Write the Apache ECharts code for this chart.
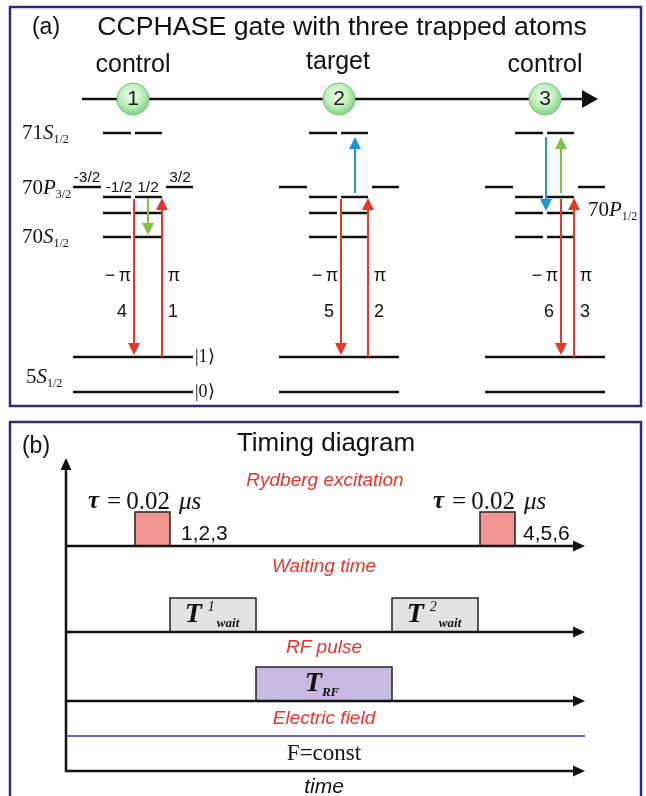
<!DOCTYPE html>
<html><head><meta charset="utf-8">
<script src="https://cdn.jsdelivr.net/npm/echarts@6/dist/echarts.min.js"></script>
<style>html,body{margin:0;padding:0;background:#fff}#c{width:646px;height:796px}</style>
</head><body><div id="c"></div>
<script>
// ---------- Panel (a): three trapped atoms ----------
const atomRoles = ['control', 'target', 'control'];
const atomLabels = ['1', '2', '3'];
const atomX = [133, 339, 545];            // atom positions along the chain
const chainY = 99;

// energy levels (vertical position of each level in the diagram)
const levelNames = ['71S1/2', '70P3/2 |mj|=3/2', '70P3/2 |mj|=1/2', '70P1/2', '70S1/2', '5S1/2 |1>', '5S1/2 |0>'];
const levelY = [133, 187, 197, 213, 237, 357, 392];
const levelKind = ['pair', 'outer', 'pair', 'pair', 'pair', 'full', 'full'];
const mjLabels = ['-3/2', '-1/2', '1/2', '3/2'];

// transitions (arrows): atom, slot offset, from level, to level, colour kind
const transAtom = [0, 0, 0, 1, 1, 1, 2, 2, 2, 2];
const transDx   = [1, 29, 15, 2, 29, 16, 16, 29, 1, 16];
const transFrom = [199, 357, 198, 199, 357, 193, 199, 357, 137, 193];
const transTo   = [355, 198, 235, 355, 198, 137, 355, 198, 211, 137];
const transKind = [0, 0, 1, 0, 0, 2, 0, 0, 2, 1];   // 0 red, 1 green, 2 blue
const pulseNumbers = [['4', '1'], ['5', '2'], ['6', '3']];

// ---------- Panel (b): timing diagram ----------
const rowNames = ['Rydberg excitation', 'Waiting time', 'RF pulse', 'Electric field'];
const rowBaseY = [546, 632, 701, 771];
const timeStart = 66, timeEnd = 585;
const rydbergPulses = [[135, 170], [480, 515]];
const waitPulses = [[170, 256], [392, 478]];
const rfPulses = [[256, 392]];
const pulseHeight = 34;
const fieldLevelY = 736;

// ---------- styles ----------
const FS = 'Liberation Sans, Arial, sans-serif';
const FSerif = 'Liberation Serif, Times New Roman, serif';
const RED = '#e5382b', GREEN = '#7dc242', BLUE = '#1e96d4';
const arrowStyles = [
  {color: RED, w: 2, head: [12, 12]},
  {color: GREEN, w: 2, head: [12, 12]},
  {color: BLUE, w: 2, head: [12, 12]},
  {color: '#111', w: 2.5, head: [16, 18]},
  {color: '#111', w: 2.5, head: [12, 11]},
  {color: '#3b33a0', w: 1.5, head: [0, 0]}
];
const pulseFills = ['#f0958f', '#e2e2e2', '#c6b9e2'];
const dashOffsets = {pair: [[-30, -2], [2, 29]], outer: [[-60, -32], [33, 60]], full: [[-60, 60]]};

// ---------- build series data ----------
const levelDashData = [];
atomX.forEach(ax => levelY.forEach((ly, i) =>
  dashOffsets[levelKind[i]].forEach(o => levelDashData.push([ax + o[0], ly, ax + o[1]]))));

const arrowData = [];
transAtom.forEach((a, i) => arrowData.push([atomX[a] + transDx[i], transFrom[i], atomX[a] + transDx[i], transTo[i], transKind[i]]));
arrowData.push([82, chainY, 598, chainY, 3]);
rowBaseY.forEach(b => arrowData.push([timeStart - 1, b, timeEnd, b, 4]));
arrowData.push([timeStart, rowBaseY[3] + 1, timeStart, 458, 4]);
arrowData.push([timeStart, fieldLevelY, timeEnd, fieldLevelY, 5]);

const pulseData = [];
rydbergPulses.forEach(p => pulseData.push([p[0], rowBaseY[0], p[1], 0]));
waitPulses.forEach(p => pulseData.push([p[0], rowBaseY[1], p[1], 1]));
rfPulses.forEach(p => pulseData.push([p[0], rowBaseY[2], p[1], 2]));

function renderDash(params, api) {
  const p0 = api.coord([api.value(0), api.value(1)]);
  const p1 = api.coord([api.value(2), api.value(1)]);
  return {type: 'line', shape: {x1: p0[0], y1: p0[1], x2: p1[0], y2: p1[1]}, style: {stroke: '#111', lineWidth: 2.5}};
}
function renderArrow(params, api) {
  const p0 = api.coord([api.value(0), api.value(1)]);
  const p1 = api.coord([api.value(2), api.value(3)]);
  const k = arrowStyles[api.value(4)];
  const dx = p1[0] - p0[0], dy = p1[1] - p0[1], L = Math.hypot(dx, dy);
  const ux = dx / L, uy = dy / L;
  const hl = k.head[0], hw = k.head[1];
  const bx = p1[0] - ux * hl, by = p1[1] - uy * hl;
  const children = [{type: 'line', shape: {x1: p0[0], y1: p0[1], x2: hl ? bx + ux : p1[0], y2: hl ? by + uy : p1[1]}, style: {stroke: k.color, lineWidth: k.w}}];
  if (hl) children.push({type: 'polygon', shape: {points: [[p1[0], p1[1]], [bx - uy * hw / 2, by + ux * hw / 2], [bx + uy * hw / 2, by - ux * hw / 2]]}, style: {fill: k.color}});
  return {type: 'group', children};
}
function renderPulse(params, api) {
  const a = api.coord([api.value(0), api.value(1) - pulseHeight]);
  const b = api.coord([api.value(2), api.value(1)]);
  return {type: 'rect', shape: {x: a[0], y: a[1], width: b[0] - a[0], height: b[1] - a[1]},
    style: {fill: pulseFills[api.value(3)], stroke: '#222', lineWidth: 1.5}};
}

// ---------- text ----------
function txt(x, y, text, o) {
  return {type: 'text', x, y, z: 100, style: Object.assign({text, fontFamily: FS, fontSize: 18, fill: '#111', align: 'center', verticalAlign: 'middle'}, o || {})};
}
function levelLabel(x, y, num, letter, sub) {
  return txt(x, y, '{n|' + num + '}{l|' + letter + '}{s|' + sub + '}', {align: 'left', rich: {
    n: {fontFamily: FSerif, fontSize: 21, lineHeight: 26, fill: '#111'},
    l: {fontFamily: FSerif, fontSize: 21, fontStyle: 'italic', lineHeight: 26, fill: '#111'},
    s: {fontFamily: FSerif, fontSize: 12, lineHeight: 12, verticalAlign: 'bottom', fill: '#111'}
  }});
}
const tauRich = {
  t: {fontFamily: FSerif, fontSize: 25, fontStyle: 'italic', fontWeight: 'bold', fill: '#111', padding: [0, 8, 0, 0]},
  e: {fontFamily: FSerif, fontSize: 25, fill: '#111', padding: [0, 5, 0, 0]},
  r: {fontFamily: FSerif, fontSize: 25, fill: '#111', padding: [0, 9, 0, 0]},
  i: {fontFamily: FSerif, fontSize: 25, fontStyle: 'italic', fill: '#111'}
};
const tRich = {
  T: {fontFamily: FSerif, fontSize: 28, fontStyle: 'italic', fontWeight: 'bold', lineHeight: 30, fill: '#111'},
  sup: {fontFamily: FSerif, fontSize: 14, fontStyle: 'italic', lineHeight: 14, verticalAlign: 'top', padding: [0, 2, 0, 6], fill: '#111'},
  sub: {fontFamily: FSerif, fontSize: 13, fontStyle: 'italic', fontWeight: 'bold', lineHeight: 12, verticalAlign: 'bottom', fill: '#111'}
};
const redItalic = {fontStyle: 'italic', fontSize: 19, fill: '#e8322a'};
const tauText = '{t|\u03C4}{e|=}{r|0.02}{i|\u03BCs}';

const graphics = [
  {type: 'rect', z: 1, shape: {x: 10, y: 7, width: 631, height: 399}, style: {fill: 'none', stroke: '#2f2b7c', lineWidth: 2.5}},
  {type: 'rect', z: 1, shape: {x: 10, y: 422, width: 631, height: 390}, style: {fill: 'none', stroke: '#2f2b7c', lineWidth: 2.5}},
  txt(46, 28, '(a)', {fontSize: 23}),
  txt(342, 28, 'CCPHASE gate with three trapped atoms', {fontSize: 26.7}),
  txt(atomX[0], 65, atomRoles[0], {fontSize: 25}),
  txt(atomX[1] - 1, 62, atomRoles[1], {fontSize: 25}),
  txt(atomX[2], 65, atomRoles[2], {fontSize: 25}),
  levelLabel(22, 133, '71', 'S', '1/2'),
  levelLabel(22, 188, '70', 'P', '3/2'),
  levelLabel(22, 237, '70', 'S', '1/2'),
  levelLabel(26, 377, '5', 'S', '1/2'),
  levelLabel(588, 210, '70', 'P', '1/2'),
  txt(87, 178, mjLabels[0], {fontSize: 15.5}),
  txt(119, 188, mjLabels[1], {fontSize: 15.5}),
  txt(148, 188, mjLabels[2], {fontSize: 15.5}),
  txt(180, 178, mjLabels[3], {fontSize: 15.5}),
  txt(195, 357, '|1\u27E9', {align: 'left', fontFamily: FSerif, fontSize: 18}),
  txt(195, 392, '|0\u27E9', {align: 'left', fontFamily: FSerif, fontSize: 18}),
  // panel b
  txt(36, 447, '(b)', {fontSize: 23}),
  txt(326, 444, 'Timing diagram', {fontSize: 26}),
  txt(325, 481, rowNames[0], redItalic),
  txt(324, 567, rowNames[1], redItalic),
  txt(324, 648, rowNames[2], redItalic),
  txt(324, 719, rowNames[3], redItalic),
  txt(88, 502, tauText, {align: 'left', rich: tauRich}),
  txt(433, 502, tauText, {align: 'left', rich: tauRich}),
  txt(181, 534, '1,2,3', {align: 'left', fontSize: 21}),
  txt(523, 534, '4,5,6', {align: 'left', fontSize: 21}),
  txt(212, 615, '{T|T}{sup|1}{sub|wait}', {rich: tRich}),
  txt(434, 615, '{T|T}{sup|2}{sub|wait}', {rich: tRich}),
  txt(322, 684, '{T|T}{sub|RF}', {rich: tRich}),
  txt(324, 754, 'F=const', {fontFamily: FSerif, fontSize: 23}),
  txt(324, 787, 'time', {fontStyle: 'italic', fontSize: 21})
];
// pi labels and pulse numbers next to the red arrows
atomX.forEach((ax, a) => {
  const idxDown = transAtom.findIndex((t, i) => t === a && transKind[i] === 0 && transFrom[i] < transTo[i]);
  const idxUp = transAtom.findIndex((t, i) => t === a && transKind[i] === 0 && transFrom[i] > transTo[i]);
  const xd = ax + transDx[idxDown], xu = ax + transDx[idxUp];
  graphics.push(txt(xd - 16, 276, '\u2212\u2009\u03C0', {fontSize: 18}));
  graphics.push(txt(xu + 12, 276, '\u03C0', {fontSize: 18}));
  graphics.push(txt(xd - 12, 312, pulseNumbers[a][0], {fontSize: 18}));
  graphics.push(txt(xu + 11, 312, pulseNumbers[a][1], {fontSize: 18}));
});

const chart = echarts.init(document.getElementById('c'));
chart.setOption({
  animation: false,
  backgroundColor: '#fff',
  grid: {left: 0, right: 0, top: 0, bottom: 0},
  xAxis: {type: 'value', min: 0, max: 646, show: false},
  yAxis: {type: 'value', min: 0, max: 796, inverse: true, show: false},
  graphic: graphics,
  series: [
    {type: 'custom', name: 'levels', clip: false, renderItem: renderDash, data: levelDashData, encode: {x: [0, 2], y: 1}, z: 3},
    {type: 'custom', name: 'pulses', clip: false, renderItem: renderPulse, data: pulseData, encode: {x: [0, 2], y: 1}, z: 4},
    {type: 'custom', name: 'arrows', clip: false, renderItem: renderArrow, data: arrowData, encode: {x: [0, 2], y: [1, 3]}, z: 5},
    {type: 'scatter', name: 'atoms', data: atomX.map(x => [x, chainY]), symbolSize: 32, z: 6,
      itemStyle: {opacity: 1, borderColor: '#72c476', borderWidth: 1,
        color: {type: 'radial', x: 0.45, y: 0.4, r: 0.6, colorStops: [{offset: 0, color: '#eefcea'}, {offset: 0.55, color: '#c2efbf'}, {offset: 1, color: '#7fd283'}]}},
      label: {show: true, position: 'inside', formatter: p => atomLabels[p.dataIndex], fontFamily: FS, fontSize: 21, color: '#222'}}
  ]
});
</script>
</body></html>
